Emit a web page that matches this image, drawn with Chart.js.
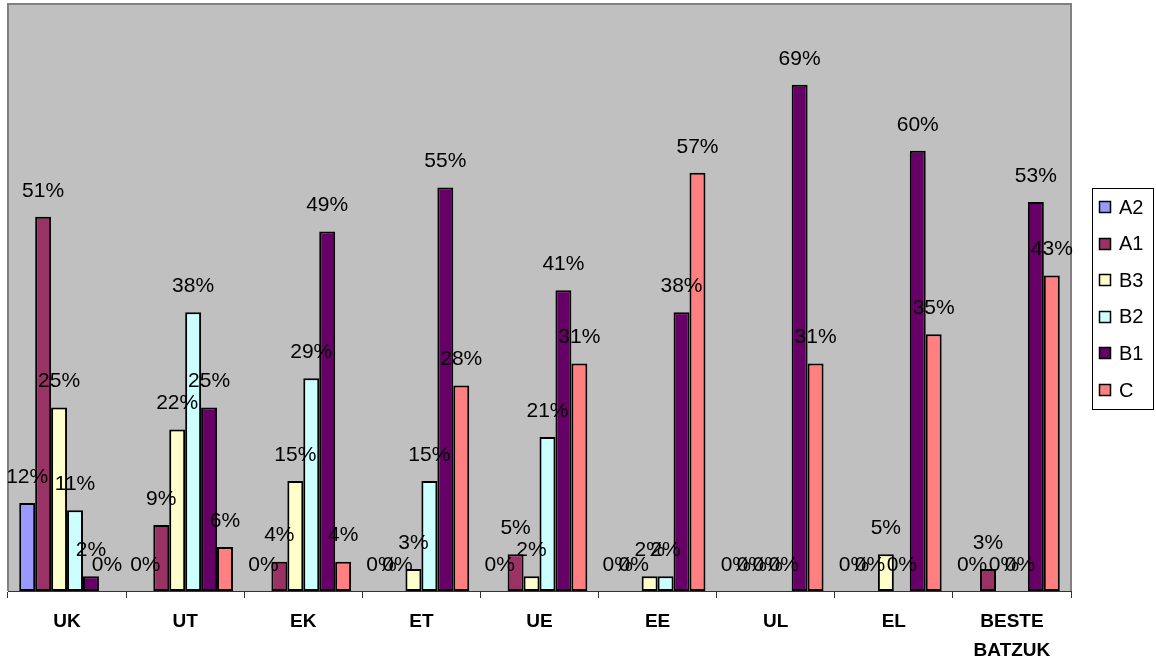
<!DOCTYPE html>
<html>
<head>
<meta charset="utf-8">
<script src="https://cdn.jsdelivr.net/npm/chart.js@4/dist/chart.umd.min.js"></script>
<style>
html,body{margin:0;padding:0;background:#fff;}
#wrap{width:1156px;height:662px;}
</style>
</head>
<body>
<div id="wrap"><canvas id="c" width="1156" height="662"></canvas></div>
<script>
const categories = ['UK','UT','EK','ET','UE','EE','UL','EL',['BESTE','BATZUK']];
const seriesNames = ['A2','A1','B3','B2','B1','C'];
const A2 = [12,0,0,0,0,0,0,0,0];
const A1 = [51,9,4,0,5,0,0,0,3];
const B3 = [25,22,15,3,2,2,0,5,0];
const B2 = [11,38,29,15,21,2,0,0,0];
const B1 = [2,25,49,55,41,38,69,60,53];
const C  = [0,6,4,28,31,57,31,35,43];
const seriesValues = [A2,A1,B3,B2,B1,C];
const seriesColors = ['#9999FF','#993366','#FFFFCC','#CCFFFF','#660066','#FF8080'];
const yMax = 80;

const FONT = '"Liberation Sans", Arial, sans-serif';

const plotBg = {
  id:'plotBg',
  beforeDraw(chart){
    const {ctx, chartArea:a} = chart;
    ctx.save();
    ctx.fillStyle = '#C0C0C0';
    ctx.fillRect(a.left, a.top, a.right-a.left, a.bottom-a.top);
    ctx.strokeStyle = '#808080';
    ctx.lineWidth = 2;
    ctx.beginPath();
    ctx.moveTo(a.left, a.bottom);
    ctx.lineTo(a.left, a.top);
    ctx.lineTo(a.right, a.top);
    ctx.lineTo(a.right, a.bottom);
    ctx.stroke();
    ctx.restore();
  }
};

const valueLabels = {
  id:'valueLabels',
  afterDatasetsDraw(chart){
    const ctx = chart.ctx;
    ctx.save();
    ctx.font = '21px ' + FONT;
    ctx.fillStyle = '#000';
    ctx.textAlign = 'center';
    ctx.textBaseline = 'middle';
    chart.data.datasets.forEach((ds, di) => {
      const meta = chart.getDatasetMeta(di);
      meta.data.forEach((el, i) => {
        ctx.fillText(ds.data[i] + '%', el.x, el.y - 26);
      });
    });
    ctx.restore();
  }
};

const boxLegend = {
  id:'boxLegend',
  afterDraw(chart){
    const ctx = chart.ctx;
    ctx.save();
    const x0 = 1092.5, y0 = 188.5, w = 61, h = 221;
    ctx.fillStyle = '#fff';
    ctx.fillRect(x0, y0, w, h);
    ctx.strokeStyle = '#000';
    ctx.lineWidth = 1;
    ctx.strokeRect(x0, y0, w, h);
    ctx.font = '20px ' + FONT;
    ctx.textBaseline = 'middle';
    ctx.textAlign = 'left';
    chart.data.datasets.forEach((ds, i) => {
      const cy = 207 + i * 36.6;
      const sy = Math.round(cy) - 5.5;
      ctx.fillStyle = ds.backgroundColor;
      ctx.fillRect(1099.5, sy, 11, 11);
      ctx.strokeStyle = '#000';
      ctx.lineWidth = 1.5;
      ctx.strokeRect(1099.5, sy, 11, 11);
      ctx.fillStyle = '#000';
      ctx.fillText(ds.label, 1119, cy + 1);
    });
    ctx.restore();
  }
};

new Chart(document.getElementById('c'), {
  type:'bar',
  data:{
    labels: categories,
    datasets: seriesNames.map((n, i) => ({
      label: n,
      data: seriesValues[i],
      backgroundColor: seriesColors[i],
      borderColor: '#000',
      borderWidth: 2,
      borderSkipped: false,
      barPercentage: 1,
      categoryPercentage: 0.81
    }))
  },
  options:{
    responsive:false,
    animation:false,
    layout:{padding:{left:8, top:4, right:85, bottom:0}},
    plugins:{legend:{display:false}, tooltip:{enabled:false}},
    scales:{
      x:{
        offset:true,
        afterFit(s){ s.height = 71; },
        grid:{offset:true, drawOnChartArea:false, drawTicks:true, tickLength:7, color:'#333', lineWidth:1},
        border:{display:true, color:'#333', width:1},
        ticks:{
          color:'#000',
          padding:9,
          maxRotation:0,
          autoSkip:false,
          font:{family:FONT, size:19, weight:'bold', lineHeight:1.53}
        }
      },
      y:{
        display:false,
        min:0,
        max:yMax
      }
    }
  },
  plugins:[plotBg, valueLabels, boxLegend]
});
</script>
</body>
</html>
